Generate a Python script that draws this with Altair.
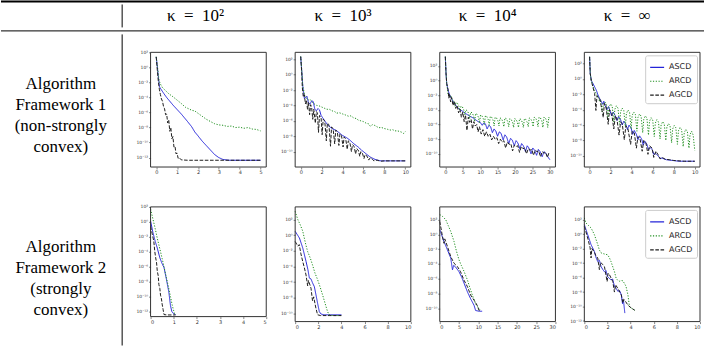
import altair as alt
import pandas as pd

SERIES = ["ASCD", "ARCD", "AGCD"]
COLORS = ["#2424d8", "#1f8f1f", "#1e1e1e"]
DASHES = [[1, 0], [1.2, 1.6], [3.6, 1.6]]

KAPPA_LABELS = ["κ\u2002=\u200210²", "κ\u2002=\u200210³", "κ\u2002=\u200210⁴", "κ\u2002=\u2002∞"]
ROW1_LABEL = ["Algorithm", "Framework 1", "(non-strongly", "convex)"]
ROW2_LABEL = ["Algorithm", "Framework 2", "(strongly", "convex)"]

# values are (iteration/epoch, log10 of the plotted quantity)
P1_ASCD = [(0, 1.4), (0.05, 0.2), (0.1, -1.2), (0.16, -2.6), (0.25, -3.0), (0.37, -3.5), (0.5, -4.0),
           (0.65, -4.5), (0.8, -5.0), (1.0, -5.6), (1.2, -6.2), (1.35, -6.7), (1.5, -7.2), (1.7, -7.9),
           (1.85, -8.6), (2.0, -9.1), (2.2, -9.8), (2.4, -10.4), (2.6, -11.0), (2.8, -11.6), (3.0, -12.0),
           (3.2, -12.25), (3.5, -12.35), (4.0, -12.35), (4.5, -12.35), (5.0, -12.35)]
P1_ARCD = [(0, 1.4), (0.05, 0.3), (0.1, -0.9), (0.13, -1.7), (0.2, -2.2), (0.3, -2.7), (0.45, -3.1),
           (0.6, -3.5), (0.8, -3.9), (1.0, -4.35), (1.2, -4.8), (1.4, -5.3), (1.55, -5.5), (1.7, -5.7),
           (1.85, -5.8), (2.0, -6.1), (2.2, -6.5), (2.4, -6.9), (2.6, -7.2), (2.8, -7.5), (3.0, -7.65),
           (3.2, -7.7), (3.4, -7.85), (3.6, -7.8), (3.8, -8.0), (4.0, -7.95), (4.2, -8.1), (4.4, -8.0),
           (4.6, -8.2), (4.8, -8.25), (5.0, -8.45)]
P1_AGCD = [(0, 1.4), (0.05, -0.3), (0.1, -1.8), (0.15, -2.9), (0.2, -3.6), (0.25, -4.2), (0.3, -4.5),
           (0.35, -5.2), (0.4, -5.5), (0.45, -6.3), (0.5, -6.2), (0.55, -7.4), (0.6, -7.0), (0.65, -8.5),
           (0.7, -8.0), (0.75, -9.5), (0.8, -9.2), (0.85, -10.6), (0.9, -10.5), (0.95, -11.5), (1.0, -11.4),
           (1.05, -12.1), (1.1, -12.0), (1.2, -12.3), (1.5, -12.35), (2.0, -12.35), (3.0, -12.35),
           (4.0, -12.35), (5.0, -12.35)]

P2_ASCD = [(0, 2.35), (0.1, 0.5), (0.2, -1.5), (0.35, -3.1), (0.5, -2.9), (0.6, -2.8), (0.75, -3.7),
           (0.9, -3.8), (1.05, -3.4), (1.2, -3.5), (1.35, -4.5), (1.5, -4.7), (1.65, -4.4), (1.8, -4.6),
           (1.95, -5.3), (2.2, -5.8), (2.45, -6.3), (2.7, -6.7), (3.0, -7.0), (3.45, -7.3), (4.0, -7.9),
           (4.4, -8.2), (4.7, -8.5), (5.1, -9.0), (5.5, -9.4), (5.8, -9.8), (6.0, -10.0), (6.35, -10.4),
           (6.65, -10.7), (7.0, -10.95), (7.3, -11.1), (7.7, -11.2), (8.5, -11.2), (9.0, -11.2), (10.0, -11.2)]
P2_ARCD = [(0, 2.35), (0.1, 0.5), (0.2, -1.5), (0.42, -2.9), (0.6, -3.1), (0.73, -3.3), (0.9, -3.2),
           (1.05, -3.5), (1.3, -3.8), (1.53, -4.0), (1.75, -4.05), (2.0, -4.2), (2.25, -4.35), (2.5, -4.5),
           (2.75, -4.5), (3.0, -4.7), (3.25, -4.8), (3.45, -5.0), (3.7, -4.95), (4.0, -5.1), (4.3, -5.25),
           (4.57, -5.4), (4.8, -5.35), (5.05, -5.6), (5.3, -5.7), (5.5, -5.9), (5.75, -6.0), (6.0, -6.1),
           (6.25, -6.3), (6.5, -6.4), (6.65, -6.7), (6.85, -6.5), (7.1, -6.6), (7.45, -6.9), (7.7, -6.85),
           (8.0, -7.0), (8.3, -7.1), (8.55, -7.2), (8.8, -7.15), (9.0, -7.3), (9.25, -7.3), (9.5, -7.4),
           (9.7, -7.5), (9.85, -7.65), (10.0, -7.4)]
P2_AGCD = [(0, 2.35), (0.1, 0.2), (0.15, -1.6), (0.25, -2.9), (0.35, -2.6), (0.45, -3.8), (0.55, -3.3),
           (0.65, -4.5), (0.75, -3.6), (0.85, -5.2), (0.95, -3.9), (1.05, -4.3), (1.15, -5.8), (1.25, -4.5),
           (1.4, -6.3), (1.5, -4.8), (1.6, -5.0), (1.7, -7.5), (1.8, -5.3), (1.95, -5.6), (2.05, -7.8),
           (2.15, -5.8), (2.3, -6.0), (2.45, -8.6), (2.55, -6.3), (2.7, -6.5), (2.85, -9.3), (2.95, -6.8),
           (3.1, -7.0), (3.25, -9.0), (3.35, -7.2), (3.5, -7.4), (3.65, -9.2), (3.75, -7.7), (3.9, -7.9),
           (4.05, -9.4), (4.15, -8.1), (4.3, -8.3), (4.45, -9.7), (4.55, -8.6), (4.7, -8.8), (4.85, -10.0),
           (4.95, -9.1), (5.1, -9.3), (5.25, -10.3), (5.35, -9.6), (5.5, -9.8), (5.65, -10.6), (5.75, -10.0),
           (5.9, -10.2), (6.05, -10.9), (6.15, -10.4), (6.35, -10.6), (6.5, -11.1), (6.65, -10.8),
           (6.85, -11.0), (7.0, -11.2), (7.3, -11.1), (7.6, -11.25), (8.0, -11.2), (9.0, -11.2), (10.0, -11.2)]

P3_ASCD = [(0, 3.27), (0.2, 1.0), (0.4, -0.4), (0.8, -1.3), (1.2, -1.9), (1.7, -2.4), (2.4, -3.0),
           (3.2, -3.5), (4.0, -3.9), (5.0, -4.2), (5.8, -4.5), (6.5, -4.7), (7.2, -4.9), (8.0, -5.1),
           (8.7, -5.35), (9.4, -5.6), (10.0, -5.7), (10.6, -6.1), (11.0, -5.8), (11.5, -5.9), (12.0, -6.6),
           (12.5, -6.1), (13.0, -6.3), (13.5, -7.1), (14.0, -6.6), (14.5, -6.9), (15.0, -7.6), (15.5, -7.0),
           (16.0, -7.2), (16.6, -8.1), (17.1, -7.4), (17.6, -7.7), (18.2, -8.6), (18.7, -7.9), (19.2, -8.1),
           (19.8, -8.9), (20.3, -8.2), (20.8, -8.5), (21.4, -9.3), (21.9, -8.6), (22.4, -8.9), (23.0, -9.7),
           (23.5, -8.9), (24.0, -9.2), (24.6, -10.0), (25.1, -9.2), (25.6, -9.5), (26.2, -10.2), (26.7, -9.4),
           (27.2, -9.7), (27.8, -10.4), (28.3, -9.7), (28.8, -9.9), (29.4, -10.4), (30.0, -10.8)]
P3_ARCD = [(0, 3.27), (0.2, 1.0), (0.4, -0.4), (0.8, -1.9), (1.2, -2.2), (1.6, -2.1), (2.0, -2.6),
           (2.4, -2.8), (2.8, -3.5), (3.1, -3.0), (3.5, -3.1), (3.9, -3.5), (4.2, -4.1), (4.5, -3.5),
           (4.9, -3.6), (5.3, -4.0), (5.6, -4.7), (5.9, -4.0), (6.3, -4.1), (6.7, -4.5), (7.0, -5.2),
           (7.3, -4.3), (7.7, -4.4), (8.1, -4.8), (8.4, -5.6), (8.7, -4.5), (9.1, -4.6), (9.5, -5.0),
           (9.8, -5.8), (10.1, -4.7), (10.5, -4.8), (10.9, -5.2), (11.2, -6.0), (11.5, -4.8), (11.9, -4.9),
           (12.3, -5.3), (12.6, -6.1), (12.9, -4.9), (13.3, -5.0), (13.7, -5.4), (14.0, -6.2), (14.3, -5.0),
           (14.7, -5.1), (15.1, -5.5), (15.4, -6.2), (15.7, -5.1), (16.1, -5.2), (16.5, -5.6), (16.8, -6.3),
           (17.1, -5.1), (17.5, -5.2), (17.9, -5.6), (18.2, -6.3), (18.5, -5.2), (18.9, -5.3), (19.3, -5.7),
           (19.6, -6.4), (19.9, -5.2), (20.3, -5.3), (20.7, -5.7), (21.0, -6.4), (21.3, -5.2), (21.7, -5.3),
           (22.1, -5.7), (22.4, -6.4), (22.7, -5.2), (23.1, -5.3), (23.5, -5.7), (23.8, -6.3), (24.1, -5.1),
           (24.5, -5.2), (24.9, -5.6), (25.2, -6.3), (25.5, -5.0), (25.9, -5.1), (26.3, -5.5), (26.6, -6.3),
           (26.9, -5.0), (27.3, -5.1), (27.7, -5.5), (28.0, -6.4), (28.3, -5.0), (28.7, -5.1), (29.1, -5.5),
           (29.4, -6.4), (29.7, -5.0), (30.0, -5.3)]
P3_AGCD = [(0, 3.27), (0.2, 1.0), (0.4, -0.4), (0.8, -1.3), (1.0, -2.4), (1.2, -1.8), (1.5, -2.9),
           (1.8, -2.3), (2.2, -3.4), (2.6, -2.8), (3.0, -3.8), (3.4, -3.4), (3.8, -4.4), (4.2, -3.9),
           (4.6, -5.0), (5.0, -4.3), (5.4, -5.6), (5.8, -4.7), (6.2, -6.8), (6.6, -5.0), (7.0, -5.7),
           (7.4, -5.3), (7.8, -6.6), (8.2, -5.6), (8.6, -6.2), (9.0, -6.0), (9.4, -7.0), (9.8, -6.3),
           (10.3, -7.3), (10.8, -6.7), (11.3, -7.6), (11.8, -7.0), (12.3, -7.6), (12.8, -7.3), (13.3, -8.1),
           (13.8, -7.6), (14.3, -8.0), (14.8, -7.8), (15.3, -8.6), (15.8, -8.0), (16.3, -8.4), (16.8, -8.2),
           (17.3, -9.2), (17.8, -8.4), (18.3, -8.7), (18.8, -8.6), (19.3, -9.6), (19.8, -8.8), (20.3, -9.0),
           (20.8, -8.9), (21.3, -9.8), (21.8, -9.0), (22.3, -9.3), (22.8, -9.2), (23.3, -10.0), (23.8, -9.3),
           (24.3, -9.5), (24.8, -9.4), (25.3, -10.2), (25.8, -9.5), (26.3, -9.7), (26.8, -9.6), (27.3, -10.4),
           (27.8, -9.7), (28.3, -9.9), (28.8, -9.8), (29.3, -10.5), (29.7, -9.9), (30.0, -10.0)]

P4_ASCD = [(0, 2.87), (0.06, 0.7), (0.16, -0.2), (0.32, -0.6), (0.5, -1.1), (0.65, -1.5), (0.8, -2.1),
           (0.97, -2.6), (1.1, -2.9), (1.25, -3.3), (1.35, -2.9), (1.5, -3.5), (1.65, -4.0), (1.8, -3.6),
           (1.95, -4.2), (2.1, -4.8), (2.25, -4.3), (2.45, -4.8), (2.6, -5.4), (2.75, -4.9), (2.95, -5.3),
           (3.1, -6.0), (3.25, -5.5), (3.45, -5.9), (3.6, -6.6), (3.75, -6.0), (3.95, -6.4), (4.1, -7.2),
           (4.25, -6.7), (4.45, -7.2), (4.6, -7.9), (4.75, -7.4), (4.95, -7.8), (5.1, -8.6), (5.25, -8.1),
           (5.45, -8.5), (5.6, -9.2), (5.75, -8.9), (5.95, -9.2), (6.1, -9.8), (6.3, -9.7), (6.5, -10.0),
           (6.7, -10.3), (6.9, -10.3), (7.3, -10.5), (7.9, -10.6), (8.5, -10.7), (9.0, -10.7), (10.0, -10.7)]
P4_ARCD = [(0, 2.87), (0.06, 0.7), (0.16, -0.2), (0.3, -0.9), (0.48, -1.5), (0.65, -2.0), (0.8, -2.4),
           (0.95, -2.9), (1.05, -2.8), (1.2, -4.3), (1.3, -3.3), (1.45, -3.0), (1.6, -3.3),
           (1.75, -5.2), (1.85, -3.7), (2.0, -3.25), (2.15, -3.55), (2.3, -5.6), (2.4, -3.95), (2.55, -3.5),
           (2.7, -3.8), (2.85, -5.9), (2.95, -4.25), (3.1, -3.8), (3.25, -4.1), (3.4, -6.2), (3.5, -4.5),
           (3.65, -4.05), (3.8, -4.35), (3.95, -6.5), (4.05, -4.75), (4.2, -4.3), (4.35, -4.6), (4.5, -6.8),
           (4.6, -5.0), (4.75, -4.55), (4.9, -4.85), (5.05, -7.0), (5.15, -5.25), (5.3, -4.8), (5.45, -5.1),
           (5.6, -7.3), (5.7, -5.5), (5.85, -5.05), (6.0, -5.35), (6.15, -7.5), (6.25, -5.75), (6.4, -5.3),
           (6.55, -5.6), (6.7, -7.8), (6.8, -6.0), (6.95, -5.55), (7.1, -5.85), (7.25, -8.0), (7.35, -6.25),
           (7.5, -5.8), (7.65, -6.1), (7.8, -8.3), (7.9, -6.5), (8.05, -6.05), (8.2, -6.35), (8.35, -8.5),
           (8.45, -6.75), (8.6, -6.3), (8.75, -6.6), (8.9, -8.8), (9.0, -7.0), (9.15, -6.55), (9.3, -6.85),
           (9.45, -9.0), (9.55, -7.25), (9.7, -6.8), (9.85, -7.3), (10.0, -9.3)]
P4_AGCD = [(0, 2.87), (0.06, 0.7), (0.16, -0.2), (0.3, -1.0), (0.48, -1.9), (0.6, -4.1), (0.7, -2.2),
           (0.85, -2.4), (0.97, -2.6), (1.1, -3.5), (1.3, -5.0), (1.4, -3.2), (1.55, -3.5), (1.77, -5.9),
           (1.9, -4.0), (2.1, -4.5), (2.3, -6.5), (2.45, -4.8), (2.6, -5.2), (2.8, -7.3), (2.95, -5.6),
           (3.1, -5.8), (3.3, -7.9), (3.45, -6.1), (3.65, -6.5), (3.9, -8.5), (4.05, -6.8), (4.25, -7.0),
           (4.45, -9.0), (4.6, -7.5), (4.8, -7.8), (5.0, -9.4), (5.15, -8.0), (5.35, -8.3), (5.55, -9.8),
           (5.7, -8.7), (5.95, -9.0), (6.1, -10.2), (6.3, -9.4), (6.5, -9.8), (6.7, -10.4), (6.9, -10.2),
           (7.2, -10.45), (7.6, -10.5), (8.0, -10.6), (9.0, -10.7), (10.0, -10.7)]

P5_ASCD = [(0, 0.1), (0.1, -1.4), (0.2, -2.6), (0.29, -3.5), (0.4, -4.8), (0.5, -5.6), (0.58, -6.1),
           (0.68, -7.6), (0.79, -9.4), (0.86, -11.2), (0.92, -12.0), (1.0, -12.3), (1.08, -12.4)]
P5_ARCD = [(0, 1.7), (0.1, 0.4), (0.2, -0.9), (0.29, -2.2), (0.4, -3.6), (0.5, -4.9), (0.58, -6.0),
           (0.7, -7.7), (0.8, -9.1), (0.86, -10.0), (0.94, -11.2), (1.0, -11.9), (1.04, -12.3), (1.08, -12.4)]
P5_AGCD = [(0, -0.6), (0.07, -1.6), (0.14, -2.6), (0.18, -3.9), (0.22, -4.8), (0.26, -5.5), (0.29, -6.6),
           (0.33, -7.2), (0.36, -8.4), (0.4, -8.9), (0.43, -9.8), (0.47, -10.3), (0.5, -11.0), (0.54, -11.7),
           (0.58, -12.4), (0.7, -12.45), (0.9, -12.45), (1.08, -12.45)]

P6_ASCD = [(0, 0.5), (0.37, -0.36), (0.66, -1.65), (0.94, -3.36), (1.1, -4.4), (1.23, -5.5), (1.37, -5.6),
           (1.5, -6.1), (1.66, -6.6), (1.8, -7.65), (1.95, -8.8), (2.09, -9.8), (2.23, -10.1), (2.5, -10.2),
           (3.0, -10.2), (4.0, -10.2)]
P6_ARCD = [(0, 3.07), (0.23, 2.0), (0.45, 1.3), (0.66, 0.5), (0.87, -0.9), (1.08, -2.1), (1.3, -2.9),
           (1.5, -3.8), (1.7, -4.8), (1.94, -5.7), (2.15, -6.6), (2.37, -7.65), (2.6, -8.8), (2.8, -9.8),
           (2.94, -10.2), (3.3, -10.3), (3.94, -10.3)]
P6_AGCD = [(0, -0.8), (0.23, -1.4), (0.35, -1.2), (0.5, -2.4), (0.66, -3.4), (0.8, -4.2), (0.94, -5.1),
           (1.08, -6.5), (1.15, -5.8), (1.37, -6.8), (1.5, -8.4), (1.6, -7.9), (1.8, -9.4), (1.94, -10.2),
           (2.2, -10.3), (3.0, -10.3), (4.0, -10.3)]

P7_ASCD = [(0, 0.64), (1.1, -0.95), (2.0, -2.1), (2.85, -3.2), (3.3, -4.8), (3.6, -4.2), (4.1, -4.4),
           (5.0, -5.05), (5.7, -5.8), (6.3, -6.6), (7.2, -7.8), (8.0, -8.7), (8.9, -9.6), (9.3, -10.3),
           (10.2, -10.4), (11.0, -10.4)]
P7_ARCD = [(0, 2.7), (0.7, 2.45), (1.55, 2.0), (2.2, 1.2), (2.85, 0.4), (3.7, -0.95), (4.3, -2.2),
           (5.0, -3.45), (5.6, -4.2), (6.3, -5.0), (7.2, -6.2), (7.8, -7.2), (8.45, -8.2), (9.3, -9.4),
           (10.2, -10.05), (10.6, -10.3)]
P7_AGCD = [(0, 1.77), (0.7, -0.27), (1.1, -1.2), (1.3, -0.6), (2.0, -1.64), (2.85, -3.0), (3.7, -3.9),
           (4.6, -4.36), (5.4, -5.05), (6.3, -6.2), (7.2, -7.1), (8.0, -8.2), (8.9, -8.9), (9.7, -9.6),
           (10.2, -10.3), (10.6, -10.3)]

P8_ASCD = [(0, 1.3), (0.29, -0.08), (0.58, -1.46), (0.87, -2.4), (1.0, -3.2), (1.16, -3.8), (1.3, -3.6),
           (1.45, -4.5), (1.6, -4.9), (1.74, -5.2), (1.87, -5.0), (2.0, -5.85), (2.15, -6.1), (2.3, -6.3),
           (2.45, -6.2), (2.6, -7.2), (2.75, -7.5), (2.9, -7.9), (3.05, -7.8), (3.2, -8.4), (3.3, -9.6),
           (3.38, -9.1), (3.5, -10.9)]
P8_ARCD = [(0, 2.23), (0.14, 1.54), (0.35, 1.2), (0.58, 0.85), (0.87, -0.08), (1.16, -1.46), (1.3, -2.2),
           (1.45, -2.6), (1.74, -2.75), (2.0, -2.85), (2.15, -3.2), (2.3, -3.77), (2.6, -5.16), (2.75, -6.1),
           (2.9, -6.4), (3.04, -6.5), (3.2, -6.4), (3.33, -6.45), (3.5, -6.9), (3.6, -7.2), (3.77, -8.4),
           (3.9, -10.0), (4.06, -10.2), (4.35, -10.5)]
P8_AGCD = [(0, 1.08), (0.29, -0.54), (0.5, -1.9), (0.58, -3.3), (0.65, -2.0), (0.87, -2.5), (1.0, -3.0),
           (1.16, -3.3), (1.3, -4.9), (1.4, -3.9), (1.6, -4.2), (1.74, -4.5), (1.97, -6.55), (2.05, -5.4),
           (2.17, -5.6), (2.46, -6.55), (2.6, -8.0), (2.7, -7.0), (2.9, -7.5), (3.2, -8.4), (3.33, -9.5),
           (3.4, -9.0), (3.48, -9.1), (3.77, -9.8), (4.06, -10.2), (4.35, -10.5)]

# axis extents and ticks per panel (x domain, x ticks, y domain in decades, y ticks in decades)
X_DOMAINS = [[-0.27, 5.27], [-0.53, 10.53], [-1.6, 31.6], [-0.5, 10.5], [0, 5], [0, 10], [0, 30], [0, 10]]
X_TICKS = [[0, 1, 2, 3, 4, 5], [0, 2, 4, 6, 8, 10], [0, 5, 10, 15, 20, 25, 30], [0, 2, 4, 6, 8, 10],
           [0, 1, 2, 3, 4, 5], [0, 2, 4, 6, 8, 10], [0, 5, 10, 15, 20, 25, 30], [0, 2, 4, 6, 8, 10]]
Y_DOMAINS = [[-13.25, 2.0], [-12.0, 2.9], [-11.8, 3.86], [-11.45, 3.45],
             [-12.67, 2.0], [-11.07, 3.63], [-11.8, 3.73], [-12.07, 3.75]]
Y_TICKS = [[2, 0, -2, -4, -6, -8, -10, -12], [2, 0, -2, -4, -6, -8, -10], [2, 0, -2, -4, -6, -8, -10],
           [2, 0, -2, -4, -6, -8, -10], [2, 0, -2, -4, -6, -8, -10, -12], [2, 0, -2, -4, -6, -8, -10],
           [2, 0, -2, -4, -6, -8, -10], [2, 0, -2, -4, -6, -8, -10, -12]]

PANELS = [
    (P1_ASCD, P1_ARCD, P1_AGCD), (P2_ASCD, P2_ARCD, P2_AGCD), (P3_ASCD, P3_ARCD, P3_AGCD),
    (P4_ASCD, P4_ARCD, P4_AGCD), (P5_ASCD, P5_ARCD, P5_AGCD), (P6_ASCD, P6_ARCD, P6_AGCD),
    (P7_ASCD, P7_ARCD, P7_AGCD), (P8_ASCD, P8_ARCD, P8_AGCD),
]

SUP = {"0": "⁰", "1": "¹", "2": "²", "3": "³", "4": "⁴", "5": "⁵", "6": "⁶",
       "7": "⁷", "8": "⁸", "9": "⁹", "-": "⁻"}
expr = "toString(datum.value)"
for k, v in SUP.items():
    expr = f"replace({expr}, regexp('{k}', 'g'), '{v}')"
Y_LABEL_EXPR = "'10' + " + expr

SERIF = "Liberation Serif"
SANS = "DejaVu Sans"
dummy = pd.DataFrame({"a": [0]})


def panel(idx, width, height, with_legend):
    layers = []
    for name, pts in zip(SERIES, PANELS[idx]):
        df = pd.DataFrame(pts, columns=["x", "e"])
        df["series"] = name
        if with_legend:
            leg = alt.Legend(title=None, orient="top-right", offset=3, padding=4,
                             fillColor="white", strokeColor="#cccccc", cornerRadius=2,
                             labelFont=SANS, labelFontSize=8, labelColor="#222222",
                             symbolType="stroke", symbolSize=196, symbolStrokeWidth=1.2,
                             rowPadding=2, labelOffset=4)
        else:
            leg = None
        layers.append(
            alt.Chart(df).mark_line(strokeWidth=1).encode(
                x=alt.X("x:Q", scale=alt.Scale(domain=X_DOMAINS[idx], nice=False, zero=False),
                        axis=alt.Axis(values=X_TICKS[idx], title=None, grid=False, domain=False,
                                      tickSize=2, tickColor="#333333", tickWidth=0.6,
                                      labelFont=SANS, labelFontSize=5, labelColor="#333333",
                                      labelPadding=1)),
                y=alt.Y("e:Q", scale=alt.Scale(domain=Y_DOMAINS[idx], nice=False, zero=False),
                        axis=alt.Axis(values=Y_TICKS[idx], title=None, grid=False, domain=False,
                                      tickSize=2, tickColor="#333333", tickWidth=0.6,
                                      labelFont=SANS, labelFontSize=4.5, labelColor="#333333",
                                      labelPadding=1, labelExpr=Y_LABEL_EXPR)),
                color=alt.Color("series:N", scale=alt.Scale(domain=SERIES, range=COLORS), legend=leg),
                strokeDash=alt.StrokeDash("series:N", scale=alt.Scale(domain=SERIES, range=DASHES),
                                          legend=leg),
            )
        )
    frame = alt.Chart(dummy).mark_rect(fillOpacity=0, stroke="#333333", strokeWidth=1).encode(
        x=alt.value(0), x2=alt.value(width), y=alt.value(0), y2=alt.value(height)
    )
    return alt.layer(*layers, frame).properties(width=width, height=height)


def rule(**enc):
    sw = enc.pop("sw", 1)
    return alt.Chart(dummy).mark_rule(color="black", strokeWidth=sw).encode(**enc)


header0 = alt.layer(
    rule(x=alt.value(0), x2=alt.value(705), y=alt.value(1), sw=2),
    rule(x=alt.value(0), x2=alt.value(705), y=alt.value(30.5)),
    rule(x=alt.value(121.5), y=alt.value(4), y2=alt.value(27)),
    rule(x=alt.value(121.5), y=alt.value(34), y2=alt.value(346)),
).properties(width=121, height=28)

KAPPA_X = [45, 48, 48, 43]


def header(i):
    return alt.Chart(dummy).mark_text(font=SERIF, fontSize=17, color="black",
                                      align="center", baseline="middle").encode(
        x=alt.value(KAPPA_X[i]), y=alt.value(16), text=alt.value(KAPPA_LABELS[i])
    ).properties(width=116, height=28)


def row_label(lines, yfirst, height):
    return alt.Chart(dummy).mark_text(font=SERIF, fontSize=17, color="black", align="center",
                                      baseline="middle", lineHeight=21, text=lines).encode(
        x=alt.value(60), y=alt.value(yfirst)
    ).properties(width=121, height=height)


cells = [header0] + [header(i) for i in range(4)]
cells += [row_label(ROW1_LABEL, 32, 131)] + [panel(i, 116, 115, i == 3) for i in range(4)]
cells += [row_label(ROW2_LABEL, 40, 138)] + [panel(4, 116, 110, False)] + \
         [panel(i, 116, 115, i == 7) for i in range(5, 8)]

chart = alt.ConcatChart(
    concat=cells, columns=5, bounds="flush", align="each",
    spacing={"row": 24, "column": 29}, padding=0,
).resolve_scale(color="independent", strokeDash="independent").configure_view(strokeWidth=0)

chart.save("out.html", embed_options={"renderer": "svg", "actions": False})
